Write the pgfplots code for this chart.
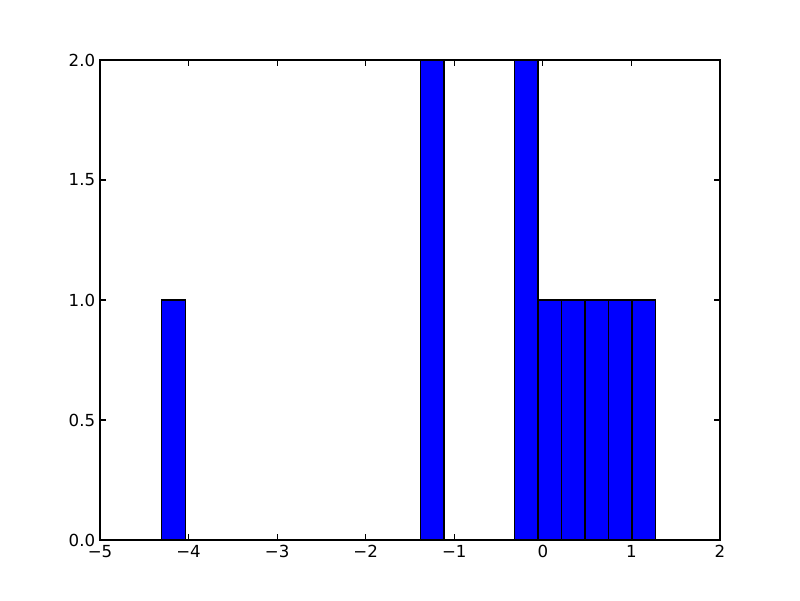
\documentclass[border=0pt]{standalone}
\usepackage{pgfplots}
\pgfplotsset{compat=1.18}
\usepackage{fontspec}
\setmainfont{DejaVu Sans}
\begin{document}
\begin{tikzpicture}
\begin{axis}[
  name=ax,
  scale only axis,
  width=6.2in, height=4.8in,
  xmin=-5, xmax=2, ymin=0, ymax=2,
  xtick={-5,-4,-3,-2,-1,0,1,2},
  xticklabels={−5,−4,−3,−2,−1,0,1,2},
  ytick={0,0.5,1,1.5,2},
  yticklabels={0.0,0.5,1.0,1.5,2.0},
  tick align=inside,
  tick pos=both,
  major tick length=4pt,
  tick style={black, line width=0.8pt},
  axis line style={line width=1pt},
  tick label style={font=\fontsize{12}{14}\selectfont},
  /pgf/number format/assume math mode=true,
  axis on top=false,
]
\addplot[ybar interval, fill={rgb,1:red,0;green,0;blue,1}, draw=black, line width=1pt] coordinates {
(-4.303,1) (-4.037,0) (-3.772,0) (-3.506,0) (-3.241,0) (-2.975,0) (-2.710,0)
(-2.444,0) (-2.178,0) (-1.913,0) (-1.647,0) (-1.382,2) (-1.116,0) (-0.851,0)
(-0.585,0) (-0.319,2) (-0.054,1) (0.212,1) (0.477,1) (0.743,1) (1.008,1) (1.274,1)
};
\end{axis}
\path[use as bounding box] ([shift={(-1in,-0.6in)}]ax.south west) rectangle ([shift={(0.8in,0.6in)}]ax.north east);
\end{tikzpicture}
\end{document}
